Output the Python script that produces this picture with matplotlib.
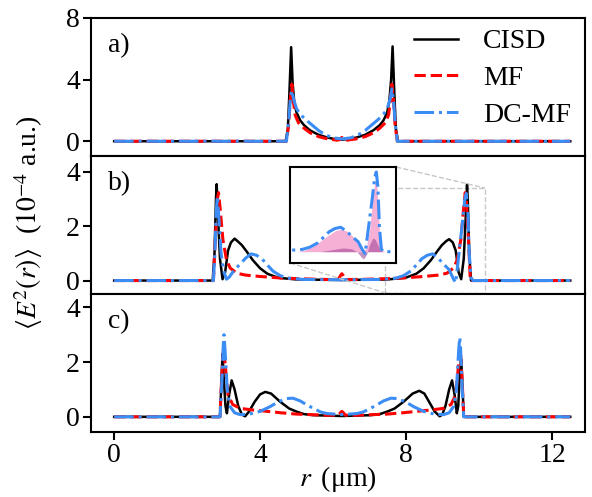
import matplotlib
matplotlib.use('Agg')
import matplotlib.pyplot as plt
from mpl_toolkits.axes_grid1.inset_locator import mark_inset

plt.rcParams['font.family'] = ['Liberation Serif', 'DejaVu Serif']
plt.rcParams['mathtext.fontset'] = 'stix'

# ---- panel a) ----
r_a_cisd = [0, 4.70, 4.76, 4.80, 4.85, 4.89, 4.94, 5.0, 5.1, 5.2, 5.37, 5.6, 5.83, 6.0, 6.24,
            6.48, 6.65, 6.88, 7.11, 7.28, 7.38, 7.48, 7.54, 7.59, 7.63, 7.68, 7.72, 7.78, 12.5]
e_a_cisd = [0, 0, 0.8, 3.0, 6.1, 3.8, 2.4, 1.85, 1.35, 1.05, 0.7, 0.42, 0.25, 0.16, 0.1,
            0.16, 0.25, 0.42, 0.72, 1.05, 1.35, 1.85, 2.6, 4.0, 6.15, 3.0, 0.8, 0, 0]
r_a_mf = [0, 4.72, 4.78, 4.83, 4.87, 4.91, 4.96, 5.05, 5.2, 5.37, 5.6, 5.85, 6.1, 6.18, 6.24,
          6.30, 6.38, 6.63, 6.88, 7.11, 7.28, 7.43, 7.52, 7.57, 7.61, 7.65, 7.70, 7.76, 12.5]
e_a_mf = [0, 0, 1.0, 2.8, 3.7, 2.6, 1.7, 1.2, 0.85, 0.55, 0.3, 0.15, 0.07, 0.1, 0.25,
          0.1, 0.07, 0.15, 0.3, 0.55, 0.85, 1.2, 1.7, 2.6, 3.7, 2.8, 1.0, 0, 0]
r_a_dc = [0, 4.72, 4.78, 4.83, 4.87, 4.92, 5.0, 5.1, 5.25, 5.4, 5.6, 5.8, 6.0, 6.24,
          6.48, 6.68, 6.88, 7.08, 7.23, 7.38, 7.48, 7.56, 7.61, 7.65, 7.70, 7.76, 12.5]
e_a_dc = [0, 0, 1.2, 2.8, 3.3, 2.7, 2.1, 1.75, 1.4, 1.1, 0.7, 0.4, 0.22, 0.15,
          0.22, 0.4, 0.7, 1.1, 1.4, 1.75, 2.1, 2.7, 3.4, 2.8, 1.2, 0, 0]

# ---- panel b) ----
r_b_cisd = [0, 2.70, 2.75, 2.79, 2.81, 2.84, 2.90, 2.97, 3.04, 3.12, 3.2, 3.3, 3.38, 3.5, 3.63,
            3.8, 4.0, 4.2, 4.5, 5.0, 6.24, 7.48, 7.98, 8.28, 8.48, 8.68, 8.85, 8.98, 9.1, 9.18,
            9.28, 9.36, 9.44, 9.51, 9.58, 9.64, 9.67, 9.69, 9.73, 9.78, 12.5]
e_b_cisd = [0, 0, 1.0, 3.0, 3.54, 2.5, 0.8, 0.05, 0.3, 1.1, 1.4, 1.54, 1.45, 1.3, 1.07,
            0.75, 0.45, 0.25, 0.1, 0.04, 0.02, 0.04, 0.1, 0.25, 0.45, 0.75, 1.07, 1.3, 1.45, 1.52,
            1.4, 1.1, 0.3, 0.05, 0.8, 2.5, 3.52, 3.0, 1.0, 0, 0]
r_b_mf = [0, 2.72, 2.77, 2.83, 2.86, 2.9, 2.98, 3.08, 3.18, 3.36, 3.6, 4.0, 4.5, 5.0, 5.8,
          6.14, 6.2, 6.24, 6.28, 6.34, 6.68, 7.48, 7.98, 8.48, 8.88, 9.12, 9.3, 9.4, 9.5,
          9.58, 9.62, 9.65, 9.71, 9.76, 12.5]
e_b_mf = [0, 0, 1.5, 3.0, 3.23, 2.7, 1.5, 0.75, 0.46, 0.27, 0.2, 0.15, 0.1, 0.07, 0.04,
          0.04, 0.18, 0.25, 0.18, 0.04, 0.04, 0.07, 0.1, 0.15, 0.2, 0.27, 0.46, 0.75, 1.5,
          2.7, 3.23, 3.0, 1.5, 0, 0]
r_b_dc = [0, 2.72, 2.76, 2.80, 2.83, 2.87, 2.93, 3.0, 3.08, 3.15, 3.3, 3.45, 3.6, 3.75, 3.9,
          4.05, 4.18, 4.35, 4.55, 4.75, 5.2, 6.24, 7.28, 7.73, 7.93, 8.13, 8.3, 8.43, 8.58,
          8.73, 8.88, 9.03, 9.18, 9.3, 9.36, 9.45, 9.55, 9.61, 9.65, 9.69, 9.73, 9.78, 9.84, 12.5]
e_b_dc = [0, 0, 1.0, 2.6, 3.1, 2.3, 1.0, 0.35, 0.05, 0.12, 0.4, 0.6, 0.82, 0.98, 0.93,
          0.8, 0.6, 0.35, 0.18, 0.09, 0.04, 0.03, 0.04, 0.09, 0.18, 0.35, 0.6, 0.8, 0.93,
          0.98, 0.82, 0.6, 0.4, 0.05, -0.08, 1.0, 2.2, 3.0, 3.2, 2.6, 1.0, 0.1, 0, 0]

# inset components (right edge of panel b)
r_in_p = [7.6, 7.8, 8.0, 8.2, 8.4, 8.6, 8.75, 8.9, 9.05, 9.18, 9.28, 9.38, 9.47, 9.55, 9.61,
          9.65, 9.69, 9.74, 9.8, 9.9]
e_in_p = [0, 0.06, 0.2, 0.42, 0.65, 0.85, 0.9, 0.82, 0.6, 0.3, 0.08, 0.1, 0.8, 2.0, 2.8,
          2.9, 2.0, 0.6, 0.05, 0]
r_in_q = [8.2, 8.5, 8.8, 9.0, 9.15, 9.25, 9.32, 9.4, 9.48, 9.56, 9.62, 9.68, 9.75, 9.82]
e_in_q = [0, 0.08, 0.15, 0.12, 0.0, -0.2, -0.3, -0.1, 0.3, 0.55, 0.5, 0.3, 0.05, 0]

# ---- panel c) ----
r_c_cisd = [0, 2.9, 2.93, 2.97, 3.0, 3.05, 3.09, 3.15, 3.22, 3.3, 3.4, 3.5, 3.59, 3.7, 3.85,
            4.0, 4.14, 4.3, 4.55, 4.8, 5.0, 5.2, 5.46, 6.24, 7.02, 7.28, 7.48, 7.68, 7.93,
            8.18, 8.36, 8.5, 8.63, 8.78, 8.92, 8.99, 9.08, 9.18, 9.26, 9.33, 9.39, 9.43, 9.48,
            9.51, 9.55, 9.58, 12.5]
e_c_cisd = [0, 0, 1.0, 2.3, 1.5, 0.4, 0.13, 0.8, 1.33, 1.0, 0.4, 0.08, 0.02, 0.2, 0.55,
            0.82, 0.91, 0.85, 0.55, 0.3, 0.19, 0.1, 0.06, 0.03, 0.06, 0.1, 0.19, 0.3, 0.55,
            0.85, 0.95, 0.85, 0.55, 0.2, 0.02, 0.08, 0.4, 1.0, 1.33, 0.8, 0.13, 0.4, 1.8,
            2.1, 1.0, 0, 0]
r_c_mf = [0, 2.9, 2.95, 3.0, 3.05, 3.12, 3.25, 3.45, 3.8, 4.2, 4.55, 5.0, 5.8, 6.14, 6.2,
          6.24, 6.28, 6.34, 6.68, 7.48, 7.93, 8.28, 8.68, 9.03, 9.23, 9.36, 9.43, 9.48, 9.53,
          9.58, 12.5]
e_c_mf = [0, 0, 1.5, 2.5, 1.8, 0.8, 0.45, 0.31, 0.25, 0.2, 0.15, 0.1, 0.06, 0.06, 0.15,
          0.2, 0.15, 0.06, 0.06, 0.1, 0.15, 0.2, 0.25, 0.31, 0.45, 0.8, 1.8, 2.5, 1.5,
          0, 0]
r_c_dc = [0, 2.9, 2.95, 2.99, 3.01, 3.04, 3.1, 3.18, 3.3, 3.45, 3.7, 4.0, 4.27, 4.5, 4.73,
          4.9, 5.1, 5.3, 5.46, 5.65, 5.83, 6.24, 6.65, 6.83, 7.02, 7.18, 7.38, 7.58, 7.75,
          7.98, 8.21, 8.48, 8.78, 9.03, 9.18, 9.3, 9.38, 9.44, 9.47, 9.49, 9.53, 9.58, 12.5]
e_c_dc = [0, 0, 1.2, 2.6, 3.0, 2.4, 1.0, 0.37, 0.15, 0.08, 0.1, 0.2, 0.37, 0.55, 0.67,
          0.68, 0.58, 0.42, 0.31, 0.18, 0.12, 0.08, 0.12, 0.18, 0.31, 0.42, 0.58, 0.68, 0.67,
          0.55, 0.37, 0.2, 0.1, 0.08, 0.15, 0.37, 1.0, 2.4, 2.9, 2.6, 1.2, 0, 0]

labels = ['CISD', 'MF', 'DC-MF']
blue = '#3c8cf5'
fs = 20

fig, axes = plt.subplots(3, 1, figsize=(5.92, 4.97), dpi=100, sharex=True)
fig.subplots_adjust(left=0.154, right=0.988, top=0.964, bottom=0.131, hspace=0)

panels = [
    (r_a_cisd, e_a_cisd, r_a_mf, e_a_mf, r_a_dc, e_a_dc),
    (r_b_cisd, e_b_cisd, r_b_mf, e_b_mf, r_b_dc, e_b_dc),
    (r_c_cisd, e_c_cisd, r_c_mf, e_c_mf, r_c_dc, e_c_dc),
]
ylims = [(-0.95, 8.0), (-0.49, 4.58), (-0.55, 4.49)]
yticks = [[0, 4, 8], [0, 2, 4], [0, 2, 4]]
tags = ['a)', 'b)', 'c)']

for ax, (r1, e1, r2, e2, r3, e3), yl, yt, tag in zip(axes, panels, ylims, yticks, tags):
    ax.plot(r1, e1, color='black', lw=1.8, label=labels[0])
    ax.plot(r2, e2, color='red', lw=2.2, ls='--', label=labels[1])
    ax.plot(r3, e3, color=blue, lw=2.2, ls='-.', label=labels[2])
    ax.set_ylim(*yl)
    ax.set_yticks(yt)
    ax.set_xlim(-0.63, 12.9)
    ax.text(0.035, 0.80, tag, transform=ax.transAxes, fontsize=fs, va='center', ha='left')
    for s in ax.spines.values():
        s.set_linewidth(1.5)
    ax.tick_params(direction='out', length=6, width=1.5, labelsize=fs, pad=2)

axes[2].set_xticks([0, 4, 8, 12])
axes[2].set_xlabel('$r$\u2009\u2009(μm)', fontsize=fs, labelpad=-3)
axes[0].legend(loc='upper right', bbox_to_anchor=(0.995, 1.0), frameon=False, fontsize=fs,
               labelspacing=0.4, handlelength=1.6, handletextpad=0.9, borderaxespad=0)

fig.text(0.048, 0.553, r'$\langle E^2(r)\rangle$  ($10^{-4}$ a.u.)', rotation=90,
         fontsize=fs, ha='center', va='center')

# inset on panel b
axin = fig.add_axes([0.49, 0.471, 0.179, 0.193])
axin.fill_between(r_in_p, e_in_p, 0, color='#f5a3cf', alpha=0.85, lw=0)
axin.fill_between(r_in_q, e_in_q, 0, color='#9b3f93', alpha=0.55, lw=0)
axin.plot(r_b_dc, e_b_dc, color=blue, lw=2.2, ls='-.')
axin.set_xlim(7.42, 10.16)
axin.set_ylim(-0.45, 3.4)
axin.set_xticks([])
axin.set_yticks([])
for s in axin.spines.values():
    s.set_linewidth(1.5)
mark_inset(axes[1], axin, loc1=1, loc2=3, fc='none', ec='0.78', ls='--', lw=1.0)

fig.savefig('out.png', dpi=100)
